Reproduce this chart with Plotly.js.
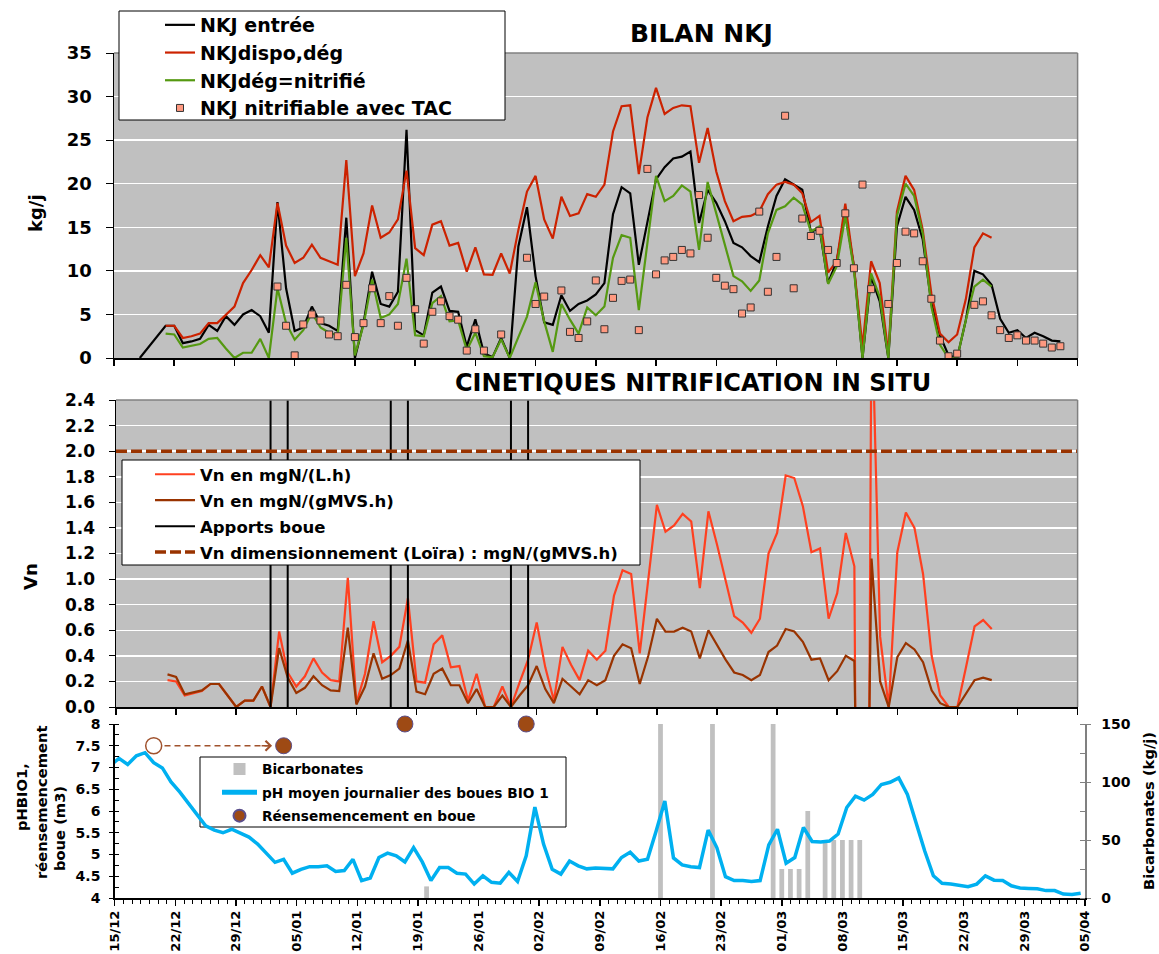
<!DOCTYPE html>
<html>
<head>
<meta charset="utf-8">
<script src="https://cdn.plot.ly/plotly-3.0.1.min.js"></script>
<style>
html,body{margin:0;padding:0;background:#ffffff;}
#chart{width:1159px;height:954px;}
</style>
</head>
<body>
<div id="chart"></div>
<script>
// ---------- DATA ----------
// Daily series, index 0 = 15/12/2007 ... index 112 = 05/04/2008
const axisRange = ['2007-12-15', '2008-04-05'];

// BILAN NKJ (kg/j)
const nkjEntree = [null,null,null,0,null,null,3.7,3.7,1.7,1.9,
 2.2,3.8,3.1,4.8,3.8,5.0,5.5,4.8,2.9,17.9,
 8.0,3.1,3.5,5.9,4.0,3.7,3.1,16.1,0,4.0,
 9.9,6.2,5.9,7.6,26.2,3.2,2.6,7.5,8.2,5.4,
 5.3,1.3,4.45,0.5,0.1,2.3,0,12.8,17.3,9.4,
 4.1,3.8,7.2,5.4,6.2,6.6,7.3,8.6,16.5,19.6,
 18.9,10.7,15.5,20.5,21.9,22.9,23.1,23.7,15.5,19.3,
 17.8,15.7,13.2,12.7,11.7,11.0,15.1,18.6,20.5,19.9,
 19.3,14.5,14.9,8.6,11.1,16.7,10.5,0,9.3,6.5,
 0,15.1,18.5,17.0,13.6,6.3,2.6,0.3,0,4.3,
 10.0,9.6,8.4,4.5,2.9,3.2,2.3,2.9,2.5,2.0,
 1.9,null,null];

const nkjDispoDeg = [null,null,null,null,null,null,3.7,3.7,2.3,2.5,
 2.8,4.0,4.0,4.9,5.9,8.6,10.1,11.8,10.4,17.8,
 12.9,10.9,11.5,13.0,11.5,11.1,10.7,22.7,9.4,12.0,
 17.5,13.8,14.4,15.9,21.5,12.6,11.8,15.3,15.7,12.9,
 13.2,9.9,12.7,9.6,9.55,12.0,9.7,14.7,19.1,20.9,
 15.9,13.7,18.5,16.3,16.6,18.8,18.5,19.9,26.0,28.9,
 29.0,21.1,27.6,31.0,28.0,28.7,29.0,28.9,22.4,26.4,
 21.4,18.0,15.7,16.2,16.3,16.8,18.8,19.9,20.2,19.9,
 18.9,15.6,16.3,9.8,11.1,17.7,10.5,1.3,11.1,8.6,
 0.5,16.8,20.9,19.3,14.7,7.4,2.8,1.8,2.7,6.7,
 12.7,14.3,13.8,null,null,null,null,null,null,null,
 null,null,null];

const nkjDegNitrifie = [null,null,null,null,null,null,2.8,2.7,1.2,1.4,
 1.6,2.2,2.3,1.1,0,0.6,0.6,2.2,0,8.0,
 4.0,2.1,3.2,5.2,3.5,2.9,2.6,13.8,0.3,3.8,
 9.0,4.6,5.0,6.2,11.4,2.6,2.5,6.3,7.1,4.2,
 4.3,0.9,2.9,0.2,0.1,2.15,0,2.4,4.75,8.7,
 4.2,0.7,6.2,4.4,2.8,5.8,4.9,5.9,11.5,14.1,
 13.8,5.5,13.0,20.9,18.0,18.6,19.8,19.1,12.4,20.2,
 16.6,13.0,9.4,8.8,7.7,8.9,14.3,17.0,17.4,18.4,
 17.6,14.5,15.1,8.5,10.5,16.3,10.2,0,9.7,7.0,
 0,16.3,20.0,18.6,14.3,5.9,1.5,0,0,4.3,
 8.2,9.0,8.2,null,null,null,null,null,null,null,
 null,null,null];

const nkjNitrifiableTAC = [null,null,null,null,null,null,null,null,null,null,
 null,null,null,null,null,null,null,null,null,8.2,
 3.7,0.3,3.85,5.0,4.3,2.7,2.5,8.4,2.4,4.0,
 8.0,4.0,7.1,3.7,9.2,5.6,1.65,5.3,6.5,4.8,
 4.4,0.85,3.3,0.85,null,2.7,null,null,11.5,6.2,
 7.05,null,7.75,3.0,2.3,4.2,8.9,3.3,6.9,8.85,
 9.0,3.2,21.7,9.6,11.2,11.6,12.4,12.0,18.7,13.8,
 9.2,8.3,7.9,5.1,5.8,16.8,7.6,11.6,27.8,8.0,
 16.0,14.0,14.6,12.4,10.9,16.6,10.3,19.9,7.9,null,
 6.2,10.9,14.5,14.3,11.1,6.8,2.0,0.2,0.5,null,
 6.1,6.5,4.9,3.2,2.3,2.6,2.0,2.0,1.65,1.2,
 1.35,null,null];

// CINETIQUES NITRIFICATION IN SITU
const vnLh = [null,null,null,null,null,null,0.21,0.20,0.09,0.11,
 0.125,0.18,0.18,0.09,0,0.05,0.05,0.16,0,0.59,
 0.27,0.16,0.24,0.38,0.27,0.21,0.20,1.01,0.03,0.26,
 0.67,0.35,0.40,0.47,0.85,0.20,0.19,0.49,0.56,0.31,
 0.32,0.05,0.26,0,0,0.16,0,0.19,0.37,0.66,
 0.31,0.05,0.47,0.33,0.21,0.44,0.37,0.44,0.87,1.07,
 1.04,0.42,1.0,1.58,1.37,1.42,1.51,1.45,0.93,1.53,
 1.27,0.98,0.71,0.66,0.58,0.69,1.20,1.36,1.81,1.79,
 1.57,1.21,1.24,0.69,0.89,1.36,1.10,-9.6,3.2,0.55,
 0,1.21,1.52,1.40,1.04,0.40,0.09,0,0,0.31,
 0.63,0.68,0.61,null,null,null,null,null,null,null,
 null,null,null];

const vnGMVSh = [null,null,null,null,null,null,0.255,0.235,0.10,0.115,
 0.13,0.18,0.18,0.09,0,0.05,0.05,0.16,0,0.46,
 0.23,0.11,0.15,0.24,0.17,0.13,0.125,0.62,0.02,0.16,
 0.42,0.22,0.25,0.30,0.52,0.12,0.10,0.26,0.30,0.17,
 0.17,0.03,0.14,0,0,0.09,0,0.09,0.17,0.32,
 0.14,0.03,0.22,0.16,0.10,0.21,0.17,0.21,0.40,0.49,
 0.46,0.18,0.40,0.69,0.59,0.59,0.62,0.59,0.38,0.60,
 0.48,0.37,0.27,0.25,0.21,0.25,0.43,0.48,0.61,0.59,
 0.51,0.37,0.38,0.21,0.28,0.40,0.36,-3.6,1.16,0.20,
 0,0.39,0.50,0.45,0.35,0.13,0.03,0,0,0.10,
 0.21,0.23,0.21,null,null,null,null,null,null,null,
 null,null,null];

const vnDimensionnement = 2.0;
const apportsDates = ['2008-01-02','2008-01-03','2008-01-04',null,
                      '2008-01-16','2008-01-17','2008-01-18',null,
                      '2008-01-30','2008-01-31','2008-02-01'];
const apportsVals  = [0,1000,0,null, 0,1000,0,null, 0,1000,0];

// pH moyen journalier (daily means, plotted at noon), from 14/12/2007
const phBio1 = [7.05,7.21,7.07,7.27,7.34,7.11,6.99,6.67,6.44,6.17,5.92,
 5.66,5.56,5.50,5.58,5.48,5.40,5.24,5.03,4.82,4.89,
 4.57,4.66,4.72,4.72,4.74,4.61,4.63,4.89,4.40,4.46,
 4.93,5.03,4.97,4.83,5.16,4.83,4.40,4.70,4.70,4.57,
 4.55,4.32,4.51,4.36,4.34,4.59,4.38,4.97,6.09,5.24,
 4.66,4.55,4.85,4.74,4.67,4.69,4.68,4.67,4.93,5.05,
 4.85,4.89,5.54,6.23,4.92,4.76,4.72,4.70,5.56,5.16,
 4.49,4.40,4.40,4.38,4.40,5.22,5.58,4.80,4.93,5.62,
 5.30,5.29,5.31,5.47,6.08,6.34,6.25,6.38,6.61,6.66,
 6.76,6.38,5.73,5.08,4.51,4.34,4.32,4.28,4.26,4.32,
 4.51,4.41,4.40,4.28,4.23,4.22,4.21,4.17,4.17,4.09,
 4.08,4.11];

const bicarbDates = ['2008-01-20','2008-02-16','2008-02-22','2008-02-29','2008-03-01','2008-03-02',
                     '2008-03-03','2008-03-04','2008-03-06','2008-03-07','2008-03-08','2008-03-09','2008-03-10'];
const bicarbVals  = [10,150,150,150,25,25,25,75,50,50,50,50,50];

const reseedDates = ['2008-01-03 12:00','2008-01-17 12:00','2008-01-31 12:00'];
const reseedVals  = [7.5, 8, 8];
const reseedPlannedDates = ['2007-12-19 12:00'];
const reseedPlannedVals  = [7.5];

// ---------- HELPERS ----------
const W = 1159, H = 954;
const FONT = 'DejaVu Sans';
function dayDate(i, hour) {
  const d = new Date(Date.UTC(2007, 11, 15 + i, hour || 0));
  return d.toISOString().slice(0, 16).replace('T', ' ');
}
const dailyX = nkjEntree.map((_, i) => dayDate(i, 0));
const phX = phBio1.map((_, i) => dayDate(i - 1, 12));
const px = v => v / W;
const py = v => 1 - v / H;
const WEEK = 7 * 86400000, DAY = 86400000;

// ---------- TRACES ----------
const traces = [
  {x: dailyX, y: nkjEntree, xaxis:'x', yaxis:'y', type:'scatter', mode:'lines', connectgaps:true,
   name:'NKJ entrée', legend:'legend', line:{color:'#000000', width:2.2}},
  {x: dailyX, y: nkjDispoDeg, xaxis:'x', yaxis:'y', type:'scatter', mode:'lines',
   name:'NKJdispo,dég', legend:'legend', line:{color:'#CC2200', width:2.2}},
  {x: dailyX, y: nkjDegNitrifie, xaxis:'x', yaxis:'y', type:'scatter', mode:'lines',
   name:'NKJdég=nitrifié', legend:'legend', line:{color:'#559911', width:2.2}},
  {x: dailyX, y: nkjNitrifiableTAC, xaxis:'x', yaxis:'y', type:'scatter', mode:'markers',
   name:'NKJ nitrifiable avec TAC', legend:'legend',
   marker:{symbol:'square', size:7, color:'#FF9980', line:{color:'#333333', width:1}}},

  {x: dailyX, y: vnLh, xaxis:'x2', yaxis:'y2', type:'scatter', mode:'lines',
   name:'Vn en mgN/(L.h)', legend:'legend2', legendgroup:'a', line:{color:'#FF4020', width:2.2}},
  {x: dailyX, y: vnGMVSh, xaxis:'x2', yaxis:'y2', type:'scatter', mode:'lines',
   name:'Vn en mgN/(gMVS.h)', legend:'legend2', legendgroup:'b', line:{color:'#993300', width:2.2}},
  {x: apportsDates, y: apportsVals, xaxis:'x2', yaxis:'y2', type:'scatter', mode:'lines',
   name:'Apports boue', legend:'legend2', legendgroup:'c', line:{color:'#000000', width:2}},
  {x: axisRange, y: [vnDimensionnement, vnDimensionnement], xaxis:'x2', yaxis:'y2', type:'scatter', mode:'lines',
   name:'Vn dimensionnement (Loïra) : mgN/(gMVS.h)', legend:'legend2', legendgroup:'d',
   line:{color:'#993300', width:3.5, dash:'11px,4px'}},

  {x: bicarbDates, y: bicarbVals, xaxis:'x3', yaxis:'y3', type:'bar', width: 0.55 * DAY,
   name:'Bicarbonates', legend:'legend3', legendgroup:'e', marker:{color:'#C0C0C0', line:{width:0}}},
  {x: phX, y: phBio1, xaxis:'x3', yaxis:'y4', type:'scatter', mode:'lines',
   name:'pH moyen journalier des boues BIO 1', legend:'legend3', legendgroup:'f',
   line:{color:'#00B0F0', width:3.5}},
  {x: reseedDates, y: reseedVals, xaxis:'x3', yaxis:'y4', type:'scatter', mode:'markers', cliponaxis:false,
   name:'Réensemencement en boue', legend:'legend3', legendgroup:'g',
   marker:{symbol:'circle', size:16, color:'#9E4A14', line:{color:'#5B4F8C', width:1}}},
  {x: reseedPlannedDates, y: reseedPlannedVals, xaxis:'x3', yaxis:'y4', type:'scatter', mode:'markers', cliponaxis:false,
   showlegend:false, marker:{symbol:'circle-open', size:16, color:'#A0522D', line:{color:'#A0522D', width:1.5}}}
];

// ---------- LAYOUT ----------
const tickFontTop = {family:FONT, size:18, weight:'bold', color:'#000'};
const tickFontMid = {family:FONT, size:17, weight:'bold', color:'#000'};
const tickFontBot = {family:FONT, size:14, weight:'bold', color:'#000'};

const xCommon = {type:'date', range:axisRange, tick0:'2007-12-15', dtick:WEEK, showgrid:false, zeroline:false,
  showline:true, linecolor:'#000', linewidth:1.5, ticks:'outside', ticklen:6, tickcolor:'#000', tickwidth:1.5,
  automargin:false, fixedrange:true};

const layout = {
  width: W, height: H,
  margin: {l:0, r:0, t:0, b:0},
  paper_bgcolor: '#ffffff',
  plot_bgcolor: 'rgba(0,0,0,0)',
  showlegend: true,
  font: {family: FONT, color:'#000'},
  xaxis: Object.assign({}, xCommon, {domain:[px(114), px(1077.6)], anchor:'y', showticklabels:false}),
  yaxis: {domain:[py(358), py(53)], anchor:'x', range:[0,35], dtick:5, tick0:0, showgrid:true, gridcolor:'#FFFFFF',
    gridwidth:1.5, zeroline:false, showline:true, linecolor:'#000', linewidth:1.5, ticks:'outside', ticklen:7,
    tickcolor:'#000', tickfont:tickFontTop, ticklabelstandoff:10, automargin:false, fixedrange:true},
  xaxis2: Object.assign({}, xCommon, {domain:[px(116), px(1077.6)], anchor:'y2', showticklabels:false}),
  yaxis2: {domain:[py(707), py(400)], anchor:'x2', range:[0,2.4], dtick:0.2, tick0:0, tickformat:'.1f',
    showgrid:true, gridcolor:'#FFFFFF', gridwidth:1.5, zeroline:false, showline:true, linecolor:'#000', linewidth:1.5,
    ticks:'outside', ticklen:6, tickcolor:'#000', tickfont:tickFontMid, ticklabelstandoff:10, automargin:false, fixedrange:true},
  xaxis3: Object.assign({}, xCommon, {domain:[px(114.7), px(1085)], anchor:'y3', showticklabels:true,
    tickformat:'%d/%m', tickangle:-90, tickfont:{family:FONT, size:13, weight:'bold', color:'#000'},
    minor:{dtick:DAY, tick0:'2007-12-15', ticks:'outside', ticklen:4, tickcolor:'#000', tickwidth:1, showgrid:false}}),
  yaxis3: {domain:[py(898), py(724)], anchor:'x3', side:'right', range:[0,150], dtick:50, tick0:0,
    showgrid:false, zeroline:false, showline:true, linecolor:'#808080', linewidth:1.5, ticks:'outside', ticklen:4,
    tickcolor:'#808080', tickfont:tickFontBot, ticklabelstandoff:8,
    minor:{dtick:25, ticks:'inside', ticklen:5, tickcolor:'#808080', showgrid:false}, automargin:false, fixedrange:true},
  yaxis4: {overlaying:'y3', anchor:'x3', side:'left', range:[4,8], dtick:0.5, tick0:4,
    showgrid:false, zeroline:false, showline:true, linecolor:'#000', linewidth:1.5, ticks:'outside', ticklen:4,
    tickcolor:'#000', tickfont:tickFontBot, ticklabelstandoff:6,
    minor:{dtick:0.25, ticks:'inside', ticklen:4, tickcolor:'#000', showgrid:false}, automargin:false, fixedrange:true},

  legend: {x:px(160), xanchor:'left', y:py(6), yanchor:'top', bgcolor:'rgba(0,0,0,0)', borderwidth:0,
    itemwidth:30, font:{family:FONT, size:19, weight:'bold', color:'#000'}},
  legend2: {x:px(150), xanchor:'left', y:py(457), yanchor:'top', bgcolor:'rgba(0,0,0,0)', borderwidth:0,
    itemwidth:40, tracegroupgap:1.5, font:{family:FONT, size:16.5, weight:'bold', color:'#000'}},
  legend3: {x:px(217), xanchor:'left', y:py(753.6), yanchor:'top', bgcolor:'rgba(0,0,0,0)', borderwidth:0,
    itemwidth:35, tracegroupgap:2.5, itemsizing:'constant', font:{family:FONT, size:13.7, weight:'bold', color:'#000'}},

  shapes: [
    // grey plot areas
    {type:'rect', xref:'x domain', yref:'y domain', x0:0, x1:1, y0:0, y1:1, fillcolor:'#C0C0C0', line:{width:0}, layer:'below'},
    {type:'rect', xref:'x2 domain', yref:'y2 domain', x0:0, x1:1, y0:0, y1:1, fillcolor:'#C0C0C0', line:{width:0}, layer:'below'},
    // grey top/right frame
    {type:'line', xref:'x domain', yref:'y domain', x0:0, x1:1, y0:1, y1:1, line:{color:'#808080', width:1.5}, layer:'above'},
    {type:'line', xref:'x domain', yref:'y domain', x0:1, x1:1, y0:0, y1:1, line:{color:'#808080', width:1.5}, layer:'above'},
    {type:'line', xref:'x2 domain', yref:'y2 domain', x0:0, x1:1, y0:1, y1:1, line:{color:'#808080', width:1.5}, layer:'above'},
    {type:'line', xref:'x2 domain', yref:'y2 domain', x0:1, x1:1, y0:0, y1:1, line:{color:'#808080', width:1.5}, layer:'above'},
    // legend boxes
    {type:'rect', xref:'paper', yref:'paper', x0:px(119), x1:px(505), y0:py(120), y1:py(11),
     fillcolor:'#FFFFFF', line:{color:'#000', width:1}, layer:'above'},
    {type:'rect', xref:'paper', yref:'paper', x0:px(122), x1:px(640), y0:py(565), y1:py(460),
     fillcolor:'#FFFFFF', line:{color:'#000', width:1}, layer:'above'},
    {type:'rect', xref:'paper', yref:'paper', x0:px(200), x1:px(566), y0:py(827), y1:py(757),
     fillcolor:'#FFFFFF', line:{color:'#000', width:1}, layer:'below'},
    // dashed arrow (planned -> actual reseeding)
    {type:'line', xref:'x3', yref:'y4', x0:'2007-12-20 18:00', x1:'2008-01-02 03:00', y0:7.5, y1:7.5,
     line:{color:'#A0522D', width:1.5, dash:'6px,4px'}, layer:'above'}
  ],

  annotations: [
    {text:'BILAN NKJ', xref:'paper', yref:'paper', x:px(701), y:py(34), xanchor:'center', yanchor:'middle',
     showarrow:false, font:{family:FONT, size:25, weight:'bold', color:'#000'}},
    {text:'CINETIQUES NITRIFICATION IN SITU', xref:'paper', yref:'paper', x:px(693), y:py(383), xanchor:'center', yanchor:'middle',
     showarrow:false, font:{family:FONT, size:24, weight:'bold', color:'#000'}},
    {text:'kg/j', xref:'paper', yref:'paper', x:px(35), y:py(213), textangle:-90, xanchor:'center', yanchor:'middle',
     showarrow:false, font:{family:FONT, size:18, weight:'bold', color:'#000'}},
    {text:'Vn', xref:'paper', yref:'paper', x:px(30), y:py(577), textangle:-90, xanchor:'center', yanchor:'middle',
     showarrow:false, font:{family:FONT, size:18, weight:'bold', color:'#000'}},
    {text:'pHBIO1,', xref:'paper', yref:'paper', x:px(21), y:py(797), textangle:-90, xanchor:'center', yanchor:'middle',
     showarrow:false, font:{family:FONT, size:14.7, weight:'bold', color:'#000'}},
    {text:'réensemencement', xref:'paper', yref:'paper', x:px(41), y:py(803), textangle:-90, xanchor:'center', yanchor:'middle',
     showarrow:false, font:{family:FONT, size:14.7, weight:'bold', color:'#000'}},
    {text:'boue (m3)', xref:'paper', yref:'paper', x:px(59), y:py(829), textangle:-90, xanchor:'center', yanchor:'middle',
     showarrow:false, font:{family:FONT, size:14.7, weight:'bold', color:'#000'}},
    {text:'Bicarbonates (kg/j)', xref:'paper', yref:'paper', x:px(1148), y:py(811), textangle:-90, xanchor:'center', yanchor:'middle',
     showarrow:false, font:{family:FONT, size:14.7, weight:'bold', color:'#000'}},
    // arrow head of the dashed arrow
    {text:'', xref:'x3', yref:'y4', x:'2008-01-02 04:00', y:7.5, showarrow:true, ax:-12, ay:0,
     arrowhead:4, arrowsize:1.3, arrowwidth:1.5, arrowcolor:'#A0522D', standoff:0}
  ]
};

Plotly.newPlot('chart', traces, layout, {displayModeBar:false, staticPlot:true});
</script>
</body>
</html>
